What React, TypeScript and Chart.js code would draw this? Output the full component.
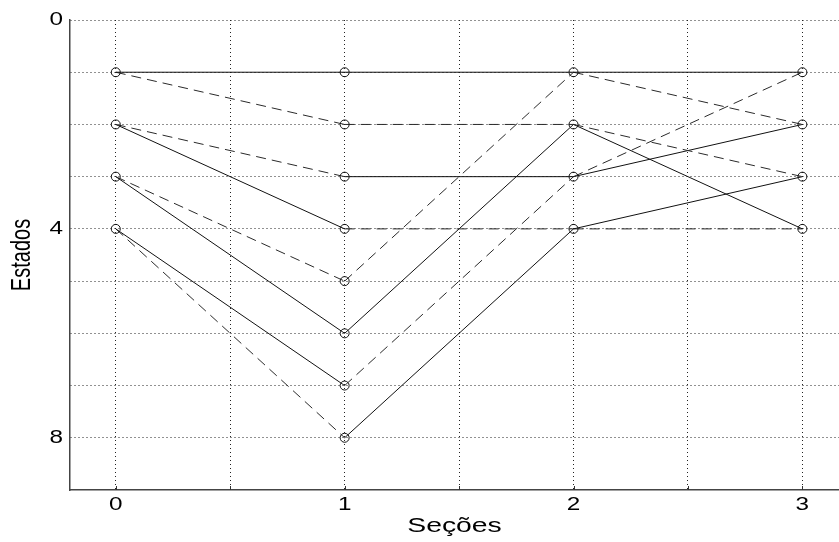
import React, { useEffect, useRef } from "react";
import { Chart, registerables } from "chart.js";

Chart.register(...registerables);

// Trellis: sections (x) and states (y)
const sections = [0, 1, 2, 3];
const statesPerSection = [
  [1, 2, 3, 4],
  [1, 2, 3, 4, 5, 6, 7, 8],
  [1, 2, 3, 4],
  [1, 2, 3, 4],
];

// transitions section 0 -> 1
const from01 = [1, 1, 2, 2, 3, 3, 4, 4];
const to01 = [1, 2, 3, 4, 5, 6, 7, 8];
const dashed01 = [false, true, true, false, true, false, false, true];

// transitions section 1 -> 2
const from12 = [1, 2, 3, 4, 5, 6, 7, 8];
const to12 = [1, 2, 3, 4, 1, 2, 3, 4];
const dashed12 = [false, true, false, true, true, false, true, false];

// transitions section 2 -> 3
const from23 = [1, 1, 2, 2, 3, 3, 4, 4];
const to23 = [1, 2, 3, 4, 1, 2, 3, 4];
const dashed23 = [false, true, true, false, true, false, false, true];

const yTickLabels = [0, 4, 8];
const xTickLabels = [0, 1, 2, 3];

const xTitle = "Seções";
const yTitle = "Estados";

const FONT = "'Liberation Sans', Arial, sans-serif";
const SX = 1.35; // horizontal stretch of the lettering in the original

const textPlugin = {
  id: "stretchedText",
  afterDraw(chart: any) {
    const ctx = chart.ctx as CanvasRenderingContext2D;
    const xs = chart.scales.x;
    const ys = chart.scales.y;
    const ca = chart.chartArea;
    ctx.save();
    // small inward tick marks on the x axis
    ctx.strokeStyle = "#333";
    ctx.lineWidth = 1;
    xs.ticks.forEach((t: any) => {
      const px = Math.round(xs.getPixelForValue(t.value)) + 0.5;
      ctx.beginPath();
      ctx.moveTo(px, ca.bottom);
      ctx.lineTo(px, ca.bottom - 4);
      ctx.stroke();
    });

    ctx.fillStyle = "#000";
    ctx.textBaseline = "middle";
    ctx.font = `18px ${FONT}`;
    xTickLabels.forEach((v) => {
      const px = xs.getPixelForValue(v);
      ctx.save();
      ctx.translate(px, ca.bottom + 15);
      ctx.scale(SX, 1);
      ctx.textAlign = "center";
      ctx.fillText(String(v), 0, 0);
      ctx.restore();
    });
    yTickLabels.forEach((v) => {
      const py = ys.getPixelForValue(v);
      ctx.save();
      ctx.translate(ca.left - 7, py);
      ctx.scale(SX, 1);
      ctx.textAlign = "right";
      ctx.fillText(String(v), 0, 0);
      ctx.restore();
    });

    // axis titles
    ctx.font = `21px ${FONT}`;
    ctx.save();
    ctx.translate((ca.left + ca.right) / 2, ca.bottom + 36);
    ctx.scale(SX, 1);
    ctx.textAlign = "center";
    ctx.fillText(xTitle, 0, 0);
    ctx.restore();

    ctx.font = `20px ${FONT}`;
    ctx.save();
    ctx.translate(23, (ca.top + ca.bottom) / 2);
    ctx.scale(SX, 1);
    ctx.rotate(-Math.PI / 2);
    ctx.textAlign = "center";
    ctx.fillText(yTitle, 0, 0);
    ctx.restore();

    ctx.restore();
  },
};

export default function App() {
  const ref = useRef<HTMLCanvasElement | null>(null);

  useEffect(() => {
    document.body.style.margin = "0";
    const canvas = ref.current;
    if (!canvas) return;

    const transitions = [
      { s: 0, from: from01, to: to01, dashed: dashed01 },
      { s: 1, from: from12, to: to12, dashed: dashed12 },
      { s: 2, from: from23, to: to23, dashed: dashed23 },
    ];

    const edgeDatasets: any[] = [];
    transitions.forEach((t) => {
      t.from.forEach((f, i) => {
        edgeDatasets.push({
          data: [
            { x: sections[t.s], y: f },
            { x: sections[t.s + 1], y: t.to[i] },
          ],
          showLine: true,
          borderColor: t.dashed[i] ? "#2a2a2a" : "#111",
          borderWidth: 1,
          borderDash: t.dashed[i] ? [10, 6] : [],
          pointRadius: 0,
          fill: false,
        });
      });
    });

    const nodePoints: { x: number; y: number }[] = [];
    statesPerSection.forEach((states, si) => {
      states.forEach((st) => nodePoints.push({ x: sections[si], y: st }));
    });

    const nodeDataset = {
      data: nodePoints,
      showLine: false,
      pointStyle: "circle",
      pointRadius: 4.5,
      pointBorderWidth: 1,
      pointBorderColor: "#111",
      pointBackgroundColor: "rgba(0,0,0,0)",
    };

    const chart = new Chart(canvas, {
      type: "scatter",
      data: { datasets: [nodeDataset as any, ...edgeDatasets] },
      plugins: [textPlugin],
      options: {
        animation: false,
        responsive: true,
        maintainAspectRatio: false,
        layout: { autoPadding: false, padding: { top: 20, right: 0, left: 0, bottom: 0 } },
        plugins: { legend: { display: false }, tooltip: { enabled: false } },
        scales: {
          x: {
            type: "linear",
            min: -0.2,
            max: 3.16,
            afterBuildTicks: (scale: any) => {
              const t: any[] = [];
              for (let v = 0; v <= 3; v += 0.5) t.push({ value: v });
              scale.ticks = t;
            },
            afterFit: (scale: any) => {
              scale.height = 52;
            },
            ticks: { display: false },
            grid: { color: "#222", lineWidth: 1, drawTicks: false },
            border: { display: true, color: "#444", width: 1.5, dash: [1, 3] },
            title: { display: false, text: xTitle },
          },
          y: {
            type: "linear",
            min: 0,
            max: 9,
            reverse: true,
            afterBuildTicks: (scale: any) => {
              const t: any[] = [];
              for (let v = 0; v <= 9; v += 1) t.push({ value: v });
              scale.ticks = t;
            },
            afterFit: (scale: any) => {
              scale.width = 70;
            },
            ticks: { display: false },
            grid: {
              color: (ctx: any) =>
                ctx.tick && ctx.tick.value === 9 ? "rgba(0,0,0,0)" : "#222",
              lineWidth: 1,
              drawTicks: false,
            },
            border: { display: true, color: "#444", width: 1.5, dash: [1, 3] },
            title: { display: false, text: yTitle },
          },
        },
      },
    });

    return () => chart.destroy();
  }, []);

  return (
    <div style={{ position: "absolute", left: 0, top: 0, width: 839, height: 542 }}>
      <canvas ref={ref} />
    </div>
  );
}
